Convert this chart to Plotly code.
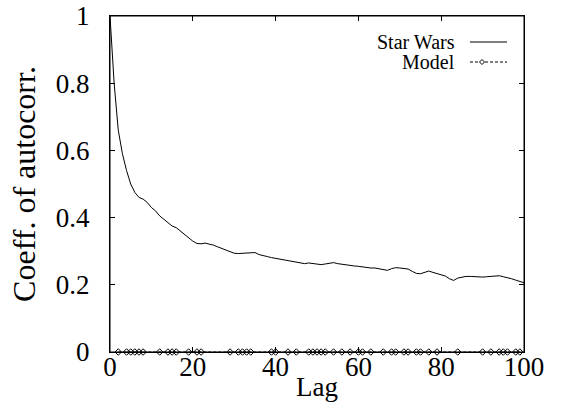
import plotly.graph_objects as go

lags = list(range(0, 101))
star_wars = [1.00, 0.80, 0.66, 0.59, 0.54, 0.50, 0.475, 0.46, 0.455, 0.445,
             0.43, 0.42, 0.405, 0.395, 0.385, 0.375, 0.37, 0.36, 0.35, 0.34,
             0.33, 0.323, 0.322, 0.324, 0.322, 0.318, 0.313, 0.308, 0.304, 0.298,
             0.294, 0.293, 0.294, 0.295, 0.297, 0.296, 0.29, 0.286, 0.284, 0.281,
             0.279, 0.276, 0.273, 0.272, 0.271, 0.268, 0.265, 0.263, 0.265, 0.263,
             0.261, 0.26, 0.262, 0.265, 0.266, 0.263, 0.261, 0.259, 0.256, 0.256,
             0.255, 0.253, 0.25, 0.25, 0.25, 0.247, 0.244, 0.243, 0.248, 0.251,
             0.25, 0.249, 0.247, 0.24, 0.234, 0.233, 0.238, 0.241, 0.237, 0.233,
             0.23, 0.226, 0.218, 0.213, 0.22, 0.223, 0.225, 0.225, 0.224, 0.223,
             0.223, 0.224, 0.225, 0.226, 0.227, 0.224, 0.222, 0.218, 0.214, 0.21,
             0.206]

model_lags = [2, 4, 5, 6, 7, 8, 12, 14, 15, 16, 19, 21, 22, 29, 31, 32, 33, 34,
              39, 40, 43, 45, 48, 49, 50, 51, 52, 54, 56, 58, 60, 61, 63, 66, 68,
              69, 71, 72, 74, 75, 77, 79, 84, 90, 92, 94, 95, 96, 98, 99]
model_vals = [0.0] * len(model_lags)

x_ticks = [0, 20, 40, 60, 80, 100]
y_ticks = [0, 0.2, 0.4, 0.6, 0.8, 1]

FONT = "Liberation Serif"

fig = go.Figure()
fig.add_trace(go.Scatter(x=lags, y=star_wars, mode="lines",
                         line=dict(color="black", width=1), name="Star Wars",
                         showlegend=False))
fig.add_trace(go.Scatter(x=model_lags, y=model_vals, mode="lines+markers",
                         line=dict(color="black", width=1, dash="3px,2px"),
                         marker=dict(symbol="diamond-open", size=5,
                                     line=dict(color="black", width=1)),
                         name="Model", showlegend=False, cliponaxis=False))

W, H = 563, 419
L, R, T, B = 110, 39, 16, 67
pw, ph = W - L - R, H - T - B

def px2paper(px, py):
    return (px - L) / pw, (H - B - py) / ph

# manual gnuplot-style key
ann = []
shapes = [dict(type="rect", xref="paper", yref="paper", x0=0, x1=1, y0=0, y1=1,
               line=dict(color="black", width=1), layer="above")]
for label, py, dashed in [("Star Wars", 42, False), ("Model", 62, True)]:
    xa, ya = px2paper(457, py)
    ann.append(dict(x=xa, y=ya, xref="paper", yref="paper", text=label,
                    showarrow=False, xanchor="right", yanchor="middle",
                    font=dict(family=FONT, size=20, color="black")))
    x0, y0 = px2paper(470, py)
    x1, _ = px2paper(507, py)
    shapes.append(dict(type="line", xref="paper", yref="paper", x0=x0, x1=x1,
                       y0=y0, y1=y0,
                       line=dict(color="black", width=1,
                                 dash="3px,2px" if dashed else "solid")))
    if dashed:
        cx, cy = 482, py
        d = 2.5
        pts = [px2paper(cx - d, cy), px2paper(cx, cy - d), px2paper(cx + d, cy),
               px2paper(cx, cy + d)]
        path = "M " + " L ".join(f"{a},{b}" for a, b in pts) + " Z"
        shapes.append(dict(type="path", xref="paper", yref="paper", path=path,
                           fillcolor="white", line=dict(color="black", width=1)))

# x-axis title as annotation for exact placement
tx, ty = px2paper(317, 387)
ann.append(dict(x=tx, y=ty, xref="paper", yref="paper", text="Lag",
                showarrow=False, xanchor="center", yanchor="middle",
                font=dict(family=FONT, size=27, color="black")))

fig.update_layout(
    width=W, height=H,
    margin=dict(l=L, r=R, t=T, b=B, pad=0, autoexpand=False),
    paper_bgcolor="white", plot_bgcolor="white",
    font=dict(family=FONT, size=27, color="black"),
    annotations=ann, shapes=shapes,
    showlegend=False,
)
fig.update_xaxes(range=[0, 100], tickvals=x_ticks, ticks="inside", ticklen=5,
                 tickcolor="black", showline=True, linecolor="black",
                 linewidth=1, mirror="ticks", showgrid=False, zeroline=False,
                 automargin=False,
                 tickfont=dict(size=27), ticklabelstandoff=-9)
fig.update_yaxes(range=[0, 1], tickvals=y_ticks, ticks="inside", ticklen=5,
                 tickcolor="black", showline=True, linecolor="black",
                 linewidth=1, mirror="ticks", showgrid=False, zeroline=False,
                 automargin=False,
                 title=dict(text="Coeff. of autocorr.", standoff=10),
                 tickfont=dict(size=27), ticklabelstandoff=14)

fig.write_html("out.html")
